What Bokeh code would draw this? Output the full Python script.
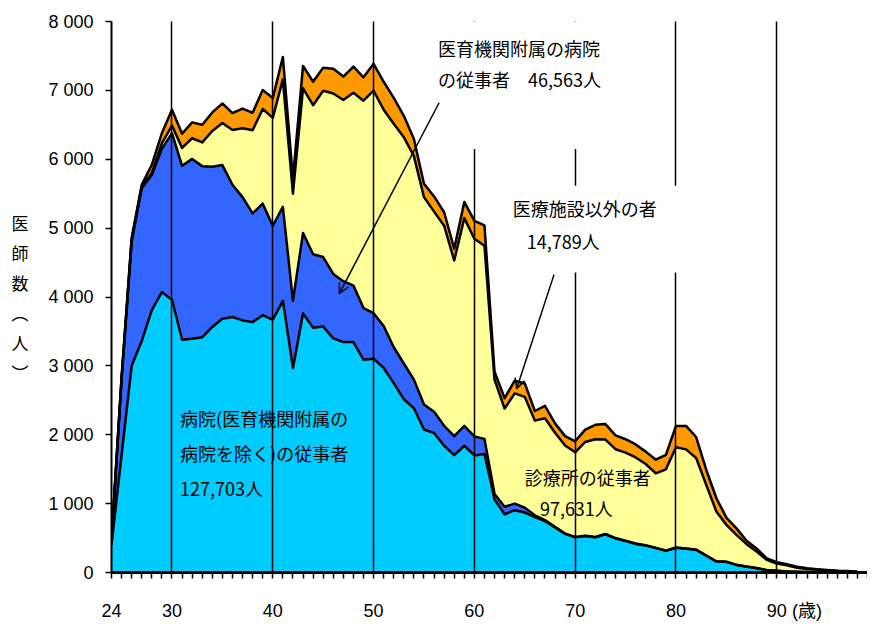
from bokeh.plotting import figure
from bokeh.models import (Range1d, FixedTicker, Label, BoxAnnotation, Arrow, OpenHead,
                          ColumnDataSource)
from bokeh.embed import file_html
from bokeh.resources import INLINE
import numpy as np

# ---- data (doctors by age, persons) ----
ages = list(range(24, 99))
hospital = [400, 1700, 3000, 3360, 3810, 4070, 3960,
            3380, 3395, 3415, 3565, 3685, 3710, 3660, 3635, 3735, 3670,
            3945, 2970, 3760, 3555, 3570, 3400, 3345, 3345, 3090, 3105,
            2970, 2750, 2515, 2385, 2075, 2025, 1840, 1705, 1840, 1700,
            1720, 1060, 845, 905, 870, 805, 745, 655, 560, 510,
            530, 510, 555, 495, 455, 415, 390, 355, 315, 360,
            345, 330, 245, 160, 155, 110, 85, 63, 34, 24,
            15, 10, 8, 5, 3, 2, 2, 1]
univ_hospital = [60, 1100, 1800, 2220, 1960, 2080, 2420,
                 2525, 2610, 2485, 2325, 2230, 1920, 1790, 1580, 1620, 1365,
                 1365, 975, 1170, 1065, 1010, 935, 885, 820, 750, 660,
                 610, 520, 520, 415, 365, 310, 290, 275, 290, 275,
                 220, 80, 110, 95, 70, 25, 15, 10, 5, 5,
                 5, 5, 5, 5, 5, 5, 5, 3, 3, 3,
                 3, 2, 2, 2, 2, 1, 1, 1, 1, 1,
                 1, 0, 0, 0, 0, 0, 0, 0]
clinic = [5, 20, 30, 25, 30, 80, 110,
          260, 300, 345, 520, 610, 795, 1000, 1205, 1375, 1565,
          1850, 1555, 2100, 2165, 2415, 2620, 2630, 2800, 3010, 3230,
          3140, 3245, 3285, 3245, 3010, 2905, 2905, 2550, 3015, 2870,
          2805, 1660, 1425, 1600, 1610, 1375, 1480, 1365, 1280, 1230,
          1360, 1420, 1370, 1290, 1280, 1250, 1180, 1080, 1180, 1455,
          1440, 1330, 1025, 725, 535, 435, 325, 241, 149, 105,
          89, 60, 42, 35, 27, 20, 14, 9]
other = [5, 20, 30, 25, 120, 150, 230,
         205, 230, 255, 270, 285, 245, 285, 255, 275, 290,
         325, 220, 325, 340, 335, 360, 340, 380, 340, 390,
         405, 375, 310, 250, 195, 220, 195, 170, 235, 260,
         295, 115, 150, 185, 195, 140, 180, 135, 135, 160,
         180, 210, 225, 200, 195, 190, 180, 200, 210, 310,
         340, 305, 220, 195, 105, 95, 50, 45, 21, 20,
         15, 15, 12, 8, 6, 4, 4, 2]

y_ticks = [0, 1000, 2000, 3000, 4000, 5000, 6000, 7000, 8000]
y_tick_labels = ["0", "1 000", "2 000", "3 000", "4 000", "5 000", "6 000", "7 000", "8 000"]
x_label_ticks = [24, 30, 40, 50, 60, 70, 80, 90]
decade_lines = [30, 40, 50, 60, 70, 80, 90]
unit_tick = 93
y_title = "医\n師\n数\n︵\n人\n︶"

names = ["hospital", "univ", "clinic", "other"]
colors = ["#00CCFF", "#3366FF", "#FFFF99", "#FF9900"]

src = ColumnDataSource(dict(age=ages, hospital=hospital, univ=univ_hospital,
                            clinic=clinic, other=other))

TICK_FONT = "'Liberation Sans', 'Noto Sans CJK JP', sans-serif"
JP_FONT = "Noto Sans CJK JP"

p = figure(width=867, height=629, output_backend="svg", toolbar_location=None,
           x_range=Range1d(24, 99), y_range=Range1d(0, 8000),
           min_border_left=111, min_border_right=0, min_border_top=21, min_border_bottom=57)
p.outline_line_color = None
p.background_fill_color = "white"
p.border_fill_color = "white"

p.varea_stack(stackers=names, x="age", color=colors, source=src)

cum = np.zeros(len(ages))
for arr in [hospital, univ_hospital, clinic, other]:
    cum = cum + np.array(arr)
    p.line(ages, cum.tolist(), line_color="black", line_width=2.5, line_join="round")

# axes
overrides = {a: (str(a) if a in x_label_ticks else "") for a in range(24, 100)}
overrides[unit_tick] = "(歳)"
p.xaxis.ticker = FixedTicker(ticks=list(range(24, 100)))
p.xaxis.major_label_overrides = overrides
p.xaxis.minor_tick_line_color = None
p.xaxis.major_tick_out = 6
p.xaxis.major_tick_in = 0
p.xaxis.major_tick_line_width = 1.5
p.xaxis.axis_line_width = 3
p.xaxis.axis_line_color = "black"
p.xaxis.major_label_standoff = 22
p.xaxis.major_label_text_font = TICK_FONT
p.xaxis.major_label_text_font_size = "18px"
p.xaxis.major_label_text_color = "black"

p.yaxis.ticker = FixedTicker(ticks=y_ticks)
p.yaxis.major_label_overrides = {t: l for t, l in zip(y_ticks, y_tick_labels)}
p.yaxis.minor_tick_line_color = None
p.yaxis.major_tick_out = 6
p.yaxis.major_tick_in = 0
p.yaxis.major_tick_line_width = 1.5
p.yaxis.axis_line_width = 2
p.yaxis.axis_line_color = "black"
p.yaxis.major_label_standoff = 12
p.yaxis.major_label_text_font = TICK_FONT
p.yaxis.major_label_text_font_size = "18px"
p.yaxis.major_label_text_color = "black"
p.yaxis.axis_label = y_title
p.yaxis.axis_label_orientation = "horizontal"
p.yaxis.axis_label_standoff = 17
p.yaxis.axis_label_text_font = JP_FONT
p.yaxis.axis_label_text_font_style = "normal"
p.yaxis.axis_label_text_font_size = "17px"
p.yaxis.axis_label_text_line_height = 1.2
p.yaxis.axis_label_text_color = "black"

p.ygrid.grid_line_color = None
p.xgrid.ticker = FixedTicker(ticks=decade_lines)
p.xgrid.grid_line_color = "black"
p.xgrid.grid_line_width = 1.5
p.xgrid.level = "guide"

# white text boxes that interrupt the decade lines
p.add_layout(BoxAnnotation(left=55.3, right=75, bottom=6150, top=8000,
                           fill_color="white", fill_alpha=1, line_color=None))
p.add_layout(BoxAnnotation(left=62.8, right=82, bottom=4354, top=5617,
                           fill_color="white", fill_alpha=1, line_color=None))

def lab(x, y, t, size="18px", align="left"):
    p.add_layout(Label(x=x, y=y, text=t, text_font=JP_FONT, text_font_size=size,
                       text_color="black", text_baseline="middle", text_align=align))

lab(56.4, 7622, "医育機関附属の病院")
lab(56.4, 7172, "の従事者　46,563人")
lab(63.8, 5285, "医療施設以外の者")
lab(65.2, 4820, "14,789人")
lab(30.8, 2250, "病院(医育機関附属の")
lab(30.8, 1728, "病院を除く)の従事者")
lab(30.8, 1220, "127,703人")
lab(65.0, 1380, "診療所の従事者")
lab(66.5, 930, "97,631人")

p.add_layout(Arrow(end=OpenHead(size=10, line_width=1.5, line_color="black"),
                   x_start=56.5, y_start=6820, x_end=46.6, y_end=4050,
                   line_width=1.5, line_color="black"))
p.add_layout(Arrow(end=OpenHead(size=10, line_width=1.5, line_color="black"),
                   x_start=67.9, y_start=4325, x_end=64.2, y_end=2670,
                   line_width=1.5, line_color="black"))

open("out.html", "w").write(file_html(p, INLINE))
